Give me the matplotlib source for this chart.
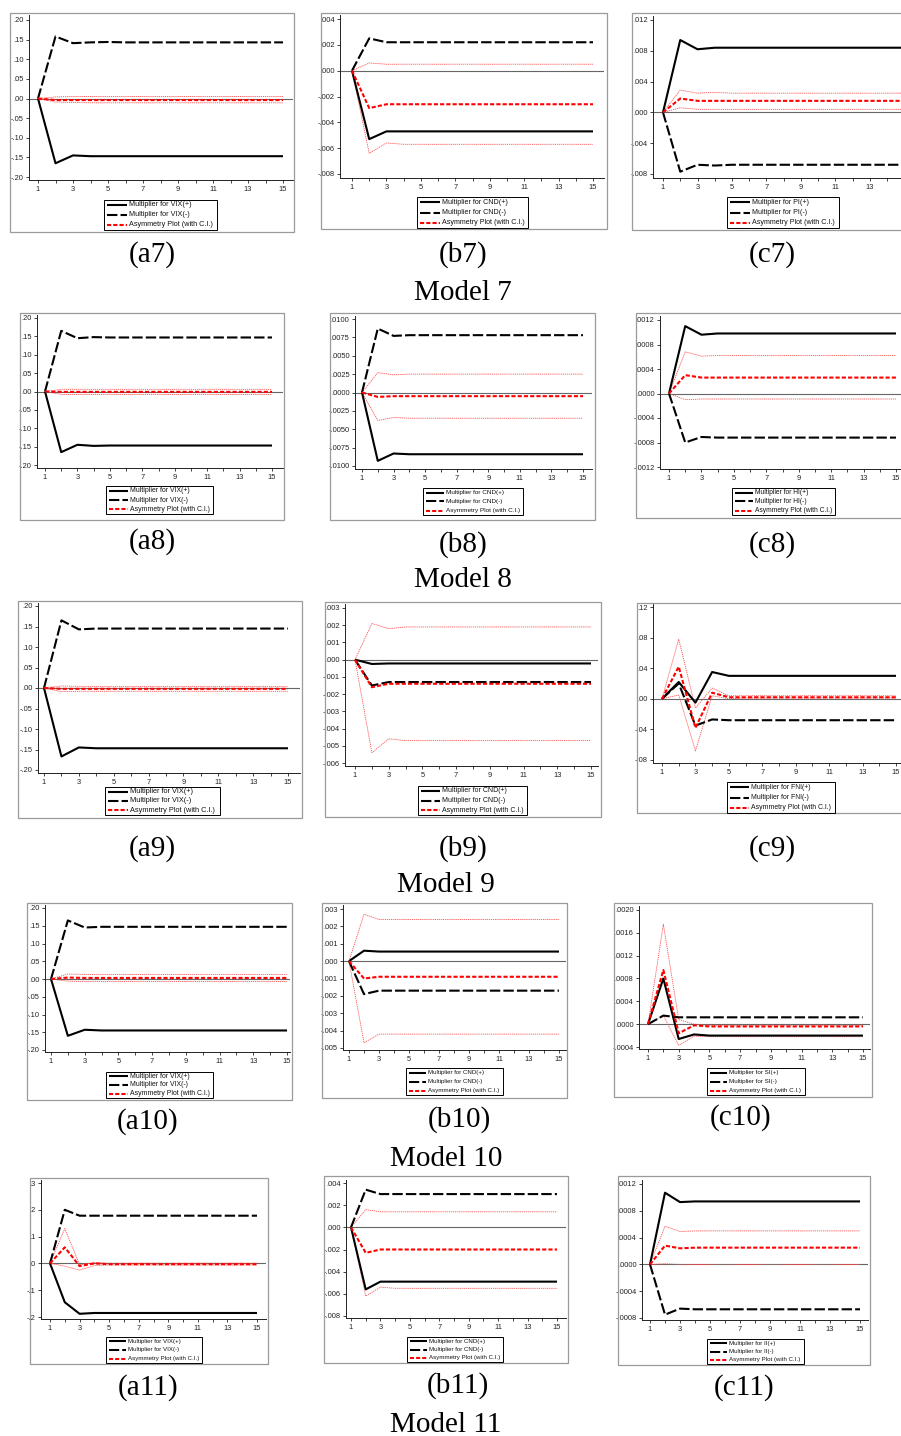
import matplotlib
matplotlib.use("Agg")
import matplotlib.pyplot as plt
from matplotlib.patches import Rectangle
from matplotlib.lines import Line2D
from matplotlib.ticker import FixedLocator, FuncFormatter

W, H = 901, 1436
horizon = list(range(1, 16))
xticks_major = [1, 3, 5, 7, 9, 11, 13, 15]
xticks_major_cut = [1, 3, 5, 7, 9, 11, 13]

# ---------------- data ----------------
a7_pos = [0, -0.165, -0.145, -0.147, -0.147, -0.147, -0.147, -0.147, -0.147, -0.147, -0.147, -0.147, -0.147, -0.147, -0.147]
a7_neg = [0, 0.158, 0.141, 0.143, 0.144, 0.143, 0.143, 0.143, 0.143, 0.143, 0.143, 0.143, 0.143, 0.143, 0.143]
a7_asy = [0, -0.004, -0.004, -0.004, -0.004, -0.004, -0.004, -0.004, -0.004, -0.004, -0.004, -0.004, -0.004, -0.004, -0.004]
a7_up = [0, 0.004, 0.005, 0.005, 0.005, 0.005, 0.005, 0.005, 0.005, 0.005, 0.005, 0.005, 0.005, 0.005, 0.005]
a7_lo = [0, -0.009, -0.010, -0.011, -0.011, -0.011, -0.011, -0.011, -0.011, -0.011, -0.011, -0.011, -0.011, -0.011, -0.011]

b7_pos = [0, -0.0053, -0.0047, -0.0047, -0.0047, -0.0047, -0.0047, -0.0047, -0.0047, -0.0047, -0.0047, -0.0047, -0.0047, -0.0047, -0.0047]
b7_neg = [0, 0.0025, 0.0022, 0.0022, 0.0022, 0.0022, 0.0022, 0.0022, 0.0022, 0.0022, 0.0022, 0.0022, 0.0022, 0.0022, 0.0022]
b7_asy = [0, -0.0029, -0.0026, -0.0026, -0.0026, -0.0026, -0.0026, -0.0026, -0.0026, -0.0026, -0.0026, -0.0026, -0.0026, -0.0026, -0.0026]
b7_up = [0, 0.0006, 0.0005, 0.0005, 0.0005, 0.0005, 0.0005, 0.0005, 0.0005, 0.0005, 0.0005, 0.0005, 0.0005, 0.0005, 0.0005]
b7_lo = [0, -0.0064, -0.0056, -0.0057, -0.0057, -0.0057, -0.0057, -0.0057, -0.0057, -0.0057, -0.0057, -0.0057, -0.0057, -0.0057, -0.0057]

c7_pos = [0, 0.0094, 0.0082, 0.0084, 0.0084, 0.0084, 0.0084, 0.0084, 0.0084, 0.0084, 0.0084, 0.0084, 0.0084, 0.0084, 0.0084]
c7_neg = [0, -0.0077, -0.0068, -0.0069, -0.0068, -0.0068, -0.0068, -0.0068, -0.0068, -0.0068, -0.0068, -0.0068, -0.0068, -0.0068, -0.0068]
c7_asy = [0, 0.0018, 0.0015, 0.0015, 0.0015, 0.0015, 0.0015, 0.0015, 0.0015, 0.0015, 0.0015, 0.0015, 0.0015, 0.0015, 0.0015]
c7_up = [0, 0.0029, 0.0025, 0.0026, 0.0025, 0.0025, 0.0025, 0.0025, 0.0025, 0.0025, 0.0025, 0.0025, 0.0025, 0.0025, 0.0025]
c7_lo = [0, 0.0006, 0.0004, 0.0004, 0.0004, 0.0004, 0.0004, 0.0004, 0.0004, 0.0004, 0.0004, 0.0004, 0.0004, 0.0004, 0.0004]

a8_pos = [0, -0.165, -0.145, -0.148, -0.147, -0.147, -0.147, -0.147, -0.147, -0.147, -0.147, -0.147, -0.147, -0.147, -0.147]
a8_neg = [0, 0.165, 0.145, 0.148, 0.147, 0.147, 0.147, 0.147, 0.147, 0.147, 0.147, 0.147, 0.147, 0.147, 0.147]
a8_asy = [0, -0.001, -0.001, -0.001, -0.001, -0.001, -0.001, -0.001, -0.001, -0.001, -0.001, -0.001, -0.001, -0.001, -0.001]
a8_up = [0, 0.006, 0.006, 0.006, 0.006, 0.006, 0.006, 0.006, 0.006, 0.006, 0.006, 0.006, 0.006, 0.006, 0.006]
a8_lo = [0, -0.008, -0.008, -0.008, -0.008, -0.008, -0.008, -0.008, -0.008, -0.008, -0.008, -0.008, -0.008, -0.008, -0.008]

b8_pos = [0, -0.0093, -0.0083, -0.0084, -0.0084, -0.0084, -0.0084, -0.0084, -0.0084, -0.0084, -0.0084, -0.0084, -0.0084, -0.0084, -0.0084]
b8_neg = [0, 0.0087, 0.0077, 0.0078, 0.0078, 0.0078, 0.0078, 0.0078, 0.0078, 0.0078, 0.0078, 0.0078, 0.0078, 0.0078, 0.0078]
b8_asy = [0, -0.0006, -0.0005, -0.0005, -0.0005, -0.0005, -0.0005, -0.0005, -0.0005, -0.0005, -0.0005, -0.0005, -0.0005, -0.0005, -0.0005]
b8_up = [0, 0.0027, 0.0024, 0.0025, 0.0025, 0.0025, 0.0025, 0.0025, 0.0025, 0.0025, 0.0025, 0.0025, 0.0025, 0.0025, 0.0025]
b8_lo = [0, -0.0038, -0.0034, -0.0035, -0.0035, -0.0035, -0.0035, -0.0035, -0.0035, -0.0035, -0.0035, -0.0035, -0.0035, -0.0035, -0.0035]

c8_pos = [0, 0.00110, 0.00096, 0.00098, 0.00098, 0.00098, 0.00098, 0.00098, 0.00098, 0.00098, 0.00098, 0.00098, 0.00098, 0.00098, 0.00098]
c8_neg = [0, -0.00080, -0.00071, -0.00072, -0.00072, -0.00072, -0.00072, -0.00072, -0.00072, -0.00072, -0.00072, -0.00072, -0.00072, -0.00072, -0.00072]
c8_asy = [0, 0.00030, 0.00026, 0.00026, 0.00026, 0.00026, 0.00026, 0.00026, 0.00026, 0.00026, 0.00026, 0.00026, 0.00026, 0.00026, 0.00026]
c8_up = [0, 0.00068, 0.00061, 0.00062, 0.00062, 0.00062, 0.00062, 0.00062, 0.00062, 0.00062, 0.00062, 0.00062, 0.00062, 0.00062, 0.00062]
c8_lo = [0, -0.00010, -0.00009, -0.00009, -0.00009, -0.00009, -0.00009, -0.00009, -0.00009, -0.00009, -0.00009, -0.00009, -0.00009, -0.00009, -0.00009]

a9_pos = [0, -0.167, -0.145, -0.147, -0.147, -0.147, -0.147, -0.147, -0.147, -0.147, -0.147, -0.147, -0.147, -0.147, -0.147]
a9_neg = [0, 0.165, 0.143, 0.145, 0.145, 0.145, 0.145, 0.145, 0.145, 0.145, 0.145, 0.145, 0.145, 0.145, 0.145]
a9_asy = [0, -0.002, -0.002, -0.002, -0.002, -0.002, -0.002, -0.002, -0.002, -0.002, -0.002, -0.002, -0.002, -0.002, -0.002]
a9_up = [0, 0.005, 0.004, 0.004, 0.004, 0.004, 0.004, 0.004, 0.004, 0.004, 0.004, 0.004, 0.004, 0.004, 0.004]
a9_lo = [0, -0.009, -0.008, -0.008, -0.008, -0.008, -0.008, -0.008, -0.008, -0.008, -0.008, -0.008, -0.008, -0.008, -0.008]

b9_pos = [0, -0.00025, -0.00022, -0.00022, -0.00022, -0.00022, -0.00022, -0.00022, -0.00022, -0.00022, -0.00022, -0.00022, -0.00022, -0.00022, -0.00022]
b9_neg = [0, -0.0015, -0.0013, -0.0013, -0.0013, -0.0013, -0.0013, -0.0013, -0.0013, -0.0013, -0.0013, -0.0013, -0.0013, -0.0013, -0.0013]
b9_asy = [0, -0.0016, -0.0014, -0.0014, -0.0014, -0.0014, -0.0014, -0.0014, -0.0014, -0.0014, -0.0014, -0.0014, -0.0014, -0.0014, -0.0014]
b9_up = [0, 0.0021, 0.0018, 0.0019, 0.0019, 0.0019, 0.0019, 0.0019, 0.0019, 0.0019, 0.0019, 0.0019, 0.0019, 0.0019, 0.0019]
b9_lo = [0, -0.0054, -0.0046, -0.0047, -0.0047, -0.0047, -0.0047, -0.0047, -0.0047, -0.0047, -0.0047, -0.0047, -0.0047, -0.0047, -0.0047]

c9_pos = [0, 0.022, -0.005, 0.035, 0.030, 0.030, 0.030, 0.030, 0.030, 0.030, 0.030, 0.030, 0.030, 0.030, 0.030]
c9_neg = [0, 0.020, -0.035, -0.027, -0.028, -0.028, -0.028, -0.028, -0.028, -0.028, -0.028, -0.028, -0.028, -0.028, -0.028]
c9_asy = [0, 0.042, -0.038, 0.008, 0.002, 0.002, 0.002, 0.002, 0.002, 0.002, 0.002, 0.002, 0.002, 0.002, 0.002]
c9_up = [0, 0.078, -0.012, 0.014, 0.004, 0.004, 0.004, 0.004, 0.004, 0.004, 0.004, 0.004, 0.004, 0.004, 0.004]
c9_lo = [0, 0.005, -0.068, 0.004, 0.000, 0.001, 0.001, 0.001, 0.001, 0.001, 0.001, 0.001, 0.001, 0.001, 0.001]

a10_pos = [0, -0.160, -0.143, -0.145, -0.145, -0.145, -0.145, -0.145, -0.145, -0.145, -0.145, -0.145, -0.145, -0.145, -0.145]
a10_neg = [0, 0.165, 0.145, 0.147, 0.147, 0.147, 0.147, 0.147, 0.147, 0.147, 0.147, 0.147, 0.147, 0.147, 0.147]
a10_asy = [0, 0.004, 0.003, 0.003, 0.003, 0.003, 0.003, 0.003, 0.003, 0.003, 0.003, 0.003, 0.003, 0.003, 0.003]
a10_up = [0, 0.014, 0.013, 0.013, 0.013, 0.013, 0.013, 0.013, 0.013, 0.013, 0.013, 0.013, 0.013, 0.013, 0.013]
a10_lo = [0, -0.006, -0.007, -0.007, -0.007, -0.007, -0.007, -0.007, -0.007, -0.007, -0.007, -0.007, -0.007, -0.007, -0.007]

b10_pos = [0, 0.00060, 0.00055, 0.00055, 0.00055, 0.00055, 0.00055, 0.00055, 0.00055, 0.00055, 0.00055, 0.00055, 0.00055, 0.00055, 0.00055]
b10_neg = [0, -0.0019, -0.0017, -0.0017, -0.0017, -0.0017, -0.0017, -0.0017, -0.0017, -0.0017, -0.0017, -0.0017, -0.0017, -0.0017, -0.0017]
b10_asy = [0, -0.0010, -0.0009, -0.0009, -0.0009, -0.0009, -0.0009, -0.0009, -0.0009, -0.0009, -0.0009, -0.0009, -0.0009, -0.0009, -0.0009]
b10_up = [0, 0.0027, 0.0024, 0.0024, 0.0024, 0.0024, 0.0024, 0.0024, 0.0024, 0.0024, 0.0024, 0.0024, 0.0024, 0.0024, 0.0024]
b10_lo = [0, -0.0047, -0.0042, -0.0042, -0.0042, -0.0042, -0.0042, -0.0042, -0.0042, -0.0042, -0.0042, -0.0042, -0.0042, -0.0042, -0.0042]

c10_pos = [0, 0.00080, -0.00026, -0.00018, -0.00020, -0.00020, -0.00020, -0.00020, -0.00020, -0.00020, -0.00020, -0.00020, -0.00020, -0.00020, -0.00020]
c10_neg = [0, 0.00015, 0.00012, 0.00012, 0.00012, 0.00012, 0.00012, 0.00012, 0.00012, 0.00012, 0.00012, 0.00012, 0.00012, 0.00012, 0.00012]
c10_asy = [0, 0.00095, -0.00016, -0.00002, -0.00004, -0.00004, -0.00004, -0.00004, -0.00004, -0.00004, -0.00004, -0.00004, -0.00004, -0.00004, -0.00004]
c10_up = [0, 0.00175, 0.00008, 0.00000, -0.00002, -0.00002, -0.00002, -0.00002, -0.00002, -0.00002, -0.00002, -0.00002, -0.00002, -0.00002, -0.00002]
c10_lo = [0, 0.00015, -0.00037, -0.00021, -0.00022, -0.00022, -0.00022, -0.00022, -0.00022, -0.00022, -0.00022, -0.00022, -0.00022, -0.00022, -0.00022]

a11_pos = [0, -0.145, -0.188, -0.185, -0.185, -0.185, -0.185, -0.185, -0.185, -0.185, -0.185, -0.185, -0.185, -0.185, -0.185]
a11_neg = [0, 0.200, 0.178, 0.178, 0.178, 0.178, 0.178, 0.178, 0.178, 0.178, 0.178, 0.178, 0.178, 0.178, 0.178]
a11_asy = [0, 0.060, -0.010, 0.000, -0.003, -0.003, -0.003, -0.003, -0.003, -0.003, -0.003, -0.003, -0.003, -0.003, -0.003]
a11_up = [0, 0.130, -0.005, 0.003, 0.001, 0.001, 0.001, 0.001, 0.001, 0.001, 0.001, 0.001, 0.001, 0.001, 0.001]
a11_lo = [0, -0.010, -0.025, -0.008, -0.006, -0.006, -0.006, -0.006, -0.006, -0.006, -0.006, -0.006, -0.006, -0.006, -0.006]

b11_pos = [0, -0.0056, -0.0049, -0.0049, -0.0049, -0.0049, -0.0049, -0.0049, -0.0049, -0.0049, -0.0049, -0.0049, -0.0049, -0.0049, -0.0049]
b11_neg = [0, 0.0034, 0.0030, 0.0030, 0.0030, 0.0030, 0.0030, 0.0030, 0.0030, 0.0030, 0.0030, 0.0030, 0.0030, 0.0030, 0.0030]
b11_asy = [0, -0.0023, -0.0020, -0.0020, -0.0020, -0.0020, -0.0020, -0.0020, -0.0020, -0.0020, -0.0020, -0.0020, -0.0020, -0.0020, -0.0020]
b11_up = [0, 0.0016, 0.0014, 0.0014, 0.0014, 0.0014, 0.0014, 0.0014, 0.0014, 0.0014, 0.0014, 0.0014, 0.0014, 0.0014, 0.0014]
b11_lo = [0, -0.0062, -0.0054, -0.0055, -0.0055, -0.0055, -0.0055, -0.0055, -0.0055, -0.0055, -0.0055, -0.0055, -0.0055, -0.0055, -0.0055]

c11_pos = [0, 0.00107, 0.00093, 0.00094, 0.00094, 0.00094, 0.00094, 0.00094, 0.00094, 0.00094, 0.00094, 0.00094, 0.00094, 0.00094, 0.00094]
c11_neg = [0, -0.00075, -0.00066, -0.00067, -0.00067, -0.00067, -0.00067, -0.00067, -0.00067, -0.00067, -0.00067, -0.00067, -0.00067, -0.00067, -0.00067]
c11_asy = [0, 0.00028, 0.00024, 0.00025, 0.00025, 0.00025, 0.00025, 0.00025, 0.00025, 0.00025, 0.00025, 0.00025, 0.00025, 0.00025, 0.00025]
c11_up = [0, 0.00057, 0.00049, 0.00050, 0.00050, 0.00050, 0.00050, 0.00050, 0.00050, 0.00050, 0.00050, 0.00050, 0.00050, 0.00050, 0.00050]
c11_lo = [0, 0.00001, 0.00000, 0.00000, 0.00000, 0.00000, 0.00000, 0.00000, 0.00000, 0.00000, 0.00000, 0.00000, 0.00000, 0.00000, 0.00000]

# y tick values per panel
a_yticks = [-0.20, -0.15, -0.10, -0.05, 0.0, 0.05, 0.10, 0.15, 0.20]
b7_yticks = [-0.008, -0.006, -0.004, -0.002, 0.0, 0.002, 0.004]
c7_yticks = [-0.008, -0.004, 0.0, 0.004, 0.008, 0.012]
b8_yticks = [-0.0100, -0.0075, -0.0050, -0.0025, 0.0, 0.0025, 0.0050, 0.0075, 0.0100]
c8_yticks = [-0.0012, -0.0008, -0.0004, 0.0, 0.0004, 0.0008, 0.0012]
b9_yticks = [-0.006, -0.005, -0.004, -0.003, -0.002, -0.001, 0.0, 0.001, 0.002, 0.003]
c9_yticks = [-0.08, -0.04, 0.0, 0.04, 0.08, 0.12]
b10_yticks = [-0.005, -0.004, -0.003, -0.002, -0.001, 0.0, 0.001, 0.002, 0.003]
c10_yticks = [-0.0004, 0.0, 0.0004, 0.0008, 0.0012, 0.0016, 0.0020]
a11_yticks = [-0.2, -0.1, 0.0, 0.1, 0.2, 0.3]
b11_yticks = [-0.008, -0.006, -0.004, -0.002, 0.0, 0.002, 0.004]
c11_yticks = [-0.0008, -0.0004, 0.0, 0.0004, 0.0008, 0.0012]

captions = ["(a7)", "(b7)", "(c7)", "(a8)", "(b8)", "(c8)", "(a9)", "(b9)", "(c9)",
            "(a10)", "(b10)", "(c10)", "(a11)", "(b11)", "(c11)"]
variables = ["VIX", "CND", "PI", "VIX", "CND", "HI", "VIX", "CND", "FNI",
             "VIX", "CND", "SI", "VIX", "CND", "II"]
model_titles = ["Model 7", "Model 8", "Model 9", "Model 10", "Model 11"]
legend_tail = "Asymmetry Plot (with C.I.)"

# ---------------- layout (pixel geometry) ----------------
panels = [
    dict(series=(a7_pos, a7_neg, a7_asy, a7_up, a7_lo), yt=a_yticks, dec=2, xt=xticks_major,
         frame=(10, 13, 294, 232), ax=(29, 15, 293, 180), ypx=(20, 177), xpx=(38, 283), leg=(104, 200, 217, 230), cap=(152, 255)),
    dict(series=(b7_pos, b7_neg, b7_asy, b7_up, b7_lo), yt=b7_yticks, dec=3, xt=xticks_major,
         frame=(321, 13, 607, 229), ax=(340, 15, 604, 178), ypx=(19, 174), xpx=(352, 593), leg=(417, 197, 528, 228), cap=(463, 255)),
    dict(series=(c7_pos, c7_neg, c7_asy, c7_up, c7_lo), yt=c7_yticks, dec=3, xt=xticks_major_cut,
         frame=(632, 13, 915, 230), ax=(653, 16, 912, 178), ypx=(20, 174), xpx=(663, 904.5), leg=(727, 197, 839, 228), cap=(772, 255)),
    dict(series=(a8_pos, a8_neg, a8_asy, a8_up, a8_lo), yt=a_yticks, dec=2, xt=xticks_major,
         frame=(20, 313, 284, 520), ax=(37, 315, 283, 468), ypx=(318, 465), xpx=(45, 272), leg=(106, 486, 213, 514), cap=(152, 542)),
    dict(series=(b8_pos, b8_neg, b8_asy, b8_up, b8_lo), yt=b8_yticks, dec=4, xt=xticks_major,
         frame=(330, 313, 595, 520), ax=(355, 316, 592, 469), ypx=(319, 466), xpx=(362, 583), leg=(423, 488, 523, 515), cap=(463, 545)),
    dict(series=(c8_pos, c8_neg, c8_asy, c8_up, c8_lo), yt=c8_yticks, dec=4, xt=xticks_major,
         frame=(636, 313, 915, 518), ax=(660, 316, 912, 469), ypx=(320, 467), xpx=(669, 896), leg=(732, 488, 835, 515), cap=(772, 545)),
    dict(series=(a9_pos, a9_neg, a9_asy, a9_up, a9_lo), yt=a_yticks, dec=2, xt=xticks_major,
         frame=(18, 601, 302, 818), ax=(38, 603, 300, 773), ypx=(606, 770), xpx=(44, 288), leg=(105, 787, 220, 815), cap=(152, 849)),
    dict(series=(b9_pos, b9_neg, b9_asy, b9_up, b9_lo), yt=b9_yticks, dec=3, xt=xticks_major,
         frame=(325, 602, 601, 817), ax=(345, 604, 598, 766), ypx=(608, 763), xpx=(355, 591), leg=(418, 786, 527, 815), cap=(463, 849)),
    dict(series=(c9_pos, c9_neg, c9_asy, c9_up, c9_lo), yt=c9_yticks, dec=2, xt=xticks_major,
         frame=(637, 603, 915, 813), ax=(653, 604, 912, 763), ypx=(607, 760), xpx=(662, 896), leg=(727, 782, 835, 813), cap=(772, 849)),
    dict(series=(a10_pos, a10_neg, a10_asy, a10_up, a10_lo), yt=a_yticks, dec=2, xt=xticks_major,
         frame=(27, 903, 292, 1100), ax=(45, 905, 290, 1052), ypx=(908, 1050), xpx=(51, 287), leg=(106, 1072, 213, 1098), cap=(148, 1122)),
    dict(series=(b10_pos, b10_neg, b10_asy, b10_up, b10_lo), yt=b10_yticks, dec=3, xt=xticks_major,
         frame=(322, 903, 567, 1098), ax=(343, 905, 566, 1050), ypx=(909, 1048), xpx=(349, 559), leg=(406, 1068, 503, 1095), cap=(459, 1120)),
    dict(series=(c10_pos, c10_neg, c10_asy, c10_up, c10_lo), yt=c10_yticks, dec=4, xt=xticks_major,
         frame=(614, 903, 872, 1097), ax=(639, 906, 870, 1049), ypx=(910, 1047), xpx=(648, 863), leg=(707, 1068, 805, 1095), cap=(741, 1118)),
    dict(series=(a11_pos, a11_neg, a11_asy, a11_up, a11_lo), yt=a11_yticks, dec=1, xt=xticks_major,
         frame=(30, 1178, 268, 1364), ax=(41, 1180, 266, 1319), ypx=(1183, 1317), xpx=(50, 257), leg=(106, 1337, 202, 1363), cap=(148, 1388)),
    dict(series=(b11_pos, b11_neg, b11_asy, b11_up, b11_lo), yt=b11_yticks, dec=3, xt=xticks_major,
         frame=(324, 1176, 568, 1363), ax=(346, 1180, 566, 1318), ypx=(1183, 1316), xpx=(351, 557), leg=(407, 1337, 503, 1362), cap=(458, 1386)),
    dict(series=(c11_pos, c11_neg, c11_asy, c11_up, c11_lo), yt=c11_yticks, dec=4, xt=xticks_major,
         frame=(618, 1176, 870, 1365), ax=(642, 1180, 868, 1320), ypx=(1184, 1318), xpx=(650, 860), leg=(707, 1339, 804, 1364), cap=(744, 1388)),
]
model_pos = [(463, 293), (463, 580), (446, 885), (446, 1159), (446, 1425)]

SANS = ["Liberation Sans", "DejaVu Sans"]
SERIF = ["Liberation Serif", "DejaVu Serif"]

fig = plt.figure(figsize=(W / 100, H / 100), dpi=100)
fig.patch.set_facecolor("white")


def fx(x):
    return x / W


def fy(y):
    return 1 - y / H


def eviews_fmt(dec):
    def f(v, pos):
        s = f"{abs(v):.{dec}f}"
        if s.startswith("0"):
            s = s[1:]
        if v < 0 and float(s) != 0:
            s = "-" + s
        return s
    return f


style_pos = dict(color="black", lw=1.5, solid_capstyle="butt")
style_neg = dict(color="black", lw=1.5, dashes=(5, 1.5))
style_asy = dict(color="#ff0000", lw=1.5, dashes=(2.0, 1.0))
style_ci = dict(color="#ff5050", lw=0.6, dashes=(1.5, 1.0))

for i, p in enumerate(panels):
    fl, ft, fr, fb = p["frame"]
    fig.patches.append(Rectangle((fx(fl), fy(fb)), fx(fr) - fx(fl), fy(ft) - fy(fb),
                                 transform=fig.transFigure, fill=False, ec="#9a9a9a", lw=0.9))
    L, T, R, B = p["ax"]
    ax = fig.add_axes([fx(L), fy(B), fx(R) - fx(L), fy(T) - fy(B)])
    ax.patch.set_alpha(0)
    yt = p["yt"]
    ptop, pbot = p["ypx"]
    s = (yt[-1] - yt[0]) / (pbot - ptop)
    ax.set_ylim(yt[0] - (B - pbot) * s, yt[-1] + (ptop - T) * s)
    x1, x15 = p["xpx"]
    u = (x15 - x1) / 14.0
    ax.set_xlim(1 - (x1 - L) / u, 15 + (R - x15) / u)

    pos, neg, asy, up, lo = p["series"]
    ax.axhline(0, color="#666666", lw=0.8, zorder=1)
    ax.plot(horizon, up, **style_ci, zorder=2)
    ax.plot(horizon, lo, **style_ci, zorder=2)
    ax.plot(horizon, pos, **style_pos, zorder=3)
    ax.plot(horizon, neg, **style_neg, zorder=3)
    ax.plot(horizon, asy, **style_asy, zorder=4)

    for sp in ("top", "right"):
        ax.spines[sp].set_visible(False)
    for sp in ("left", "bottom"):
        ax.spines[sp].set_linewidth(0.7)
        ax.spines[sp].set_color("#222222")
    ax.yaxis.set_major_locator(FixedLocator(yt))
    ax.yaxis.set_major_formatter(FuncFormatter(eviews_fmt(p["dec"])))
    ax.xaxis.set_major_locator(FixedLocator(p["xt"]))
    ax.xaxis.set_minor_locator(FixedLocator(horizon))
    ax.tick_params(axis="both", which="major", length=2.5, width=0.6, labelsize=5.4, pad=1.5, colors="#222222")
    ax.tick_params(axis="x", which="minor", length=2.5, width=0.6, colors="#222222")
    for lab in ax.get_xticklabels() + ax.get_yticklabels():
        lab.set_family(SANS)

    # legend box drawn by hand, text scaled with the box width
    ll, lt, lr, lb = p["leg"]
    fig.patches.append(Rectangle((fx(ll), fy(lb)), fx(lr) - fx(ll), fy(lt) - fy(lb),
                                 transform=fig.transFigure, fill=False, ec="black", lw=0.7))
    k_scale = (lr - ll) / 113.0
    var = variables[i]
    texts = [f"Multiplier for {var}(+)", f"Multiplier for {var}(-)", legend_tail]
    styles = [style_pos, style_neg, style_asy]
    h = lb - lt
    seg = 20 * k_scale
    for k in range(3):
        yy = lt + h * (2 * k + 1) / 6.0
        st = dict(styles[k])
        st["lw"] = st["lw"] * (0.85 + 0.15 * k_scale)
        fig.add_artist(Line2D([fx(ll + 3), fx(ll + 3 + seg)], [fy(yy), fy(yy)], transform=fig.transFigure, **st))
        fig.text(fx(ll + 5 + seg), fy(yy), texts[k], fontsize=5.2 * k_scale, family=SANS,
                 va="center", ha="left", color="#111111")

    cx, cy = p["cap"]
    fig.text(fx(cx), fy(cy), captions[i], fontsize=21, family=SERIF, ha="center", va="center")

for t, (mx, my) in zip(model_titles, model_pos):
    fig.text(fx(mx), fy(my), t, fontsize=21, family=SERIF, ha="center", va="center")

fig.savefig("out.png", dpi=100, facecolor="white")
